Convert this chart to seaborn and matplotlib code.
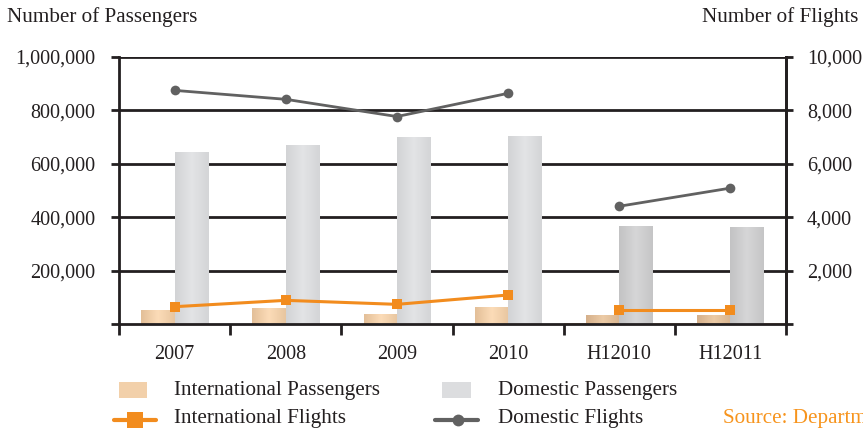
import numpy as np
import pandas as pd
import matplotlib
matplotlib.use("Agg")
import matplotlib.pyplot as plt
import seaborn as sns
from matplotlib.colors import LinearSegmentedColormap
from matplotlib.lines import Line2D
from matplotlib.patches import Rectangle

# ---------------- data ----------------
categories = ["2007", "2008", "2009", "2010", "H12010", "H12011"]
intl_passengers = [49000, 57000, 37000, 61000, 30000, 30000]
dom_passengers = [644000, 670000, 697000, 704000, 367000, 360000]
intl_flights = [648, 886, 736, 1086, 524, 524]
dom_flights = [8750, 8415, 7770, 8640, 4410, 5090]
segment = [0, 0, 0, 0, 1, 1]
left_ticks = [0, 200000, 400000, 600000, 800000, 1000000]
left_labels = ["", "200,000", "400,000", "600,000", "800,000", "1,000,000"]
right_ticks = [0, 2000, 4000, 6000, 8000, 10000]
right_labels = ["", "2,000", "4,000", "6,000", "8,000", "10,000"]
legend_labels = ["International Passengers", "Domestic Passengers",
                 "International Flights", "Domestic Flights"]
source_text = "Source: Department of Civil Aviation"

sns.set_theme(style="white")
plt.rcParams["font.family"] = ["Liberation Serif", "DejaVu Serif"]
TXT = "#231f20"
FS = 14.5
FS2 = 15.2
ORANGE = "#f28c1e"
GRAY = "#616161"

W, H = 863, 432
fig = plt.figure(figsize=(W / 100, H / 100), dpi=100)
ax = fig.add_axes([119 / W, 1 - 324 / H, (786 - 119) / W, (324 - 57) / H])

pos = np.arange(len(categories))
df = pd.DataFrame({
    "cat": categories * 2,
    "val": intl_passengers + dom_passengers,
    "type": ["International Passengers"] * 6 + ["Domestic Passengers"] * 6,
})

# shaded half-year region
ax.axvspan(3.5, 5.5, color="#e5e6e8", zorder=0, lw=0)

sns.barplot(data=df, x="cat", y="val", hue="type", order=categories,
            hue_order=["International Passengers", "Domestic Passengers"],
            width=0.6, dodge=True, ax=ax, legend=False,
            palette=["#f3d1ab", "#dcdddf"], saturation=1, zorder=2)

# gradient fill for bars
cmaps = {
    ("i", False): LinearSegmentedColormap.from_list("a", ["#e3bf98", "#fcdcb8", "#e8c6a0"]),
    ("i", True): LinearSegmentedColormap.from_list("b", ["#d5b08b", "#eccba6", "#d9b590"]),
    ("d", False): LinearSegmentedColormap.from_list("c", ["#d2d3d5", "#e3e4e6", "#d4d5d7"]),
    ("d", True): LinearSegmentedColormap.from_list("d", ["#c3c3c4", "#d6d6d7", "#c5c5c6"]),
}
grad = np.linspace(0, 1, 64).reshape(1, -1)
patches = list(ax.patches)
for p in patches:
    x0, w, h = p.get_x(), p.get_width(), p.get_height()
    if w <= 0 or h <= 0:
        continue
    kind = "i" if abs(h) < 150000 else "d"
    shaded = (x0 + w / 2) > 3.5
    ax.imshow(grad, extent=[x0, x0 + w, 0, h], aspect="auto",
              cmap=cmaps[(kind, shaded)], zorder=2.1, interpolation="bicubic")
    p.set_facecolor("none")
    p.set_edgecolor("none")

ax.set_xlim(-0.5, 5.5)
ax.set_ylim(0, 1000000)
ax.set_xlabel("")
ax.set_ylabel("")

# grid lines
for t in left_ticks[1:]:
    ax.axhline(t, color=TXT, lw=2, zorder=1.5)

ax.set_yticks(left_ticks)
ax.set_yticklabels(left_labels)
ax.set_xticks(np.arange(-0.5, 6, 1.0))
ax.set_xticklabels([])
ax.set_xticks(pos, minor=True)
ax.set_xticklabels(categories, minor=True)
ax.tick_params(axis="x", which="major", length=8, width=2, color=TXT, direction="out", bottom=True)
ax.tick_params(axis="x", which="minor", length=0, pad=15, labelsize=FS, labelcolor=TXT)
ax.tick_params(axis="y", length=6, width=2, color=TXT, direction="out", left=True,
               pad=11, labelsize=FS, labelcolor=TXT)
for s in ["left", "bottom", "right"]:
    ax.spines[s].set_visible(True)
    ax.spines[s].set_color(TXT)
    ax.spines[s].set_linewidth(2)
ax.spines["top"].set_visible(False)

# flights on secondary axis
ax2 = ax.twinx()
fl = pd.DataFrame({"pos": pos, "intl": intl_flights, "dom": dom_flights, "seg": segment})
sns.lineplot(data=fl, x="pos", y="dom", units="seg", estimator=None, ax=ax2,
             color=GRAY, lw=2, marker="o", markersize=7, markeredgewidth=0, zorder=4)
sns.lineplot(data=fl, x="pos", y="intl", units="seg", estimator=None, ax=ax2,
             color=ORANGE, lw=2.2, marker="s", markersize=7.5, markeredgewidth=0, zorder=4)
ax2.set_ylim(0, 10000)
ax2.set_xlim(-0.5, 5.5)
ax2.set_ylabel("")
ax2.set_xlabel("")
ax2.set_yticks(right_ticks)
ax2.set_yticklabels(right_labels)
ax2.tick_params(axis="y", length=5, width=2, color=TXT, direction="out", right=True,
                pad=10, labelsize=FS, labelcolor=TXT)
for s in ax2.spines.values():
    s.set_visible(False)
ax2.spines["right"].set_visible(True)
ax2.spines["right"].set_color(TXT)
ax2.spines["right"].set_linewidth(2)

# axis titles
fig.text(7 / W, 1 - 17 / H, "Number of Passengers", ha="left", va="center", fontsize=FS2, color=TXT)
fig.text(858 / W, 1 - 17 / H, "Number of Flights", ha="right", va="center", fontsize=FS2, color=TXT)

# legend (drawn manually to match the layout)
def fx(px):
    return px / W

def fy(py):
    return 1 - py / H

fig.add_artist(Rectangle((fx(119), fy(398)), (147 - 119) / W, 16 / H, transform=fig.transFigure,
                         facecolor="#f2d0aa", edgecolor="none"))
fig.add_artist(Rectangle((fx(442), fy(398)), (471 - 442) / W, 16 / H, transform=fig.transFigure,
                         facecolor="#dcdddf", edgecolor="none"))
fig.add_artist(Line2D([fx(114), fx(156)], [fy(420), fy(420)], transform=fig.transFigure,
                      color=ORANGE, lw=3))
fig.add_artist(Line2D([fx(135)], [fy(420)], transform=fig.transFigure, color=ORANGE,
                      marker="s", markersize=11, markeredgewidth=0, lw=0))
fig.add_artist(Line2D([fx(435), fx(478)], [fy(420), fy(420)], transform=fig.transFigure,
                      color=GRAY, lw=3))
fig.add_artist(Line2D([fx(458)], [fy(420)], transform=fig.transFigure, color=GRAY,
                      marker="o", markersize=8.5, markeredgewidth=0, lw=0))
fig.text(fx(174), fy(391), legend_labels[0], ha="left", va="center", fontsize=FS2, color=TXT)
fig.text(fx(498), fy(391), legend_labels[1], ha="left", va="center", fontsize=FS2, color=TXT)
fig.text(fx(174), fy(419), legend_labels[2], ha="left", va="center", fontsize=FS2, color=TXT)
fig.text(fx(498), fy(419), legend_labels[3], ha="left", va="center", fontsize=FS2, color=TXT)

fig.text(fx(723), fy(418), source_text, ha="left", va="center", fontsize=FS2, color="#f7941d")

fig.savefig("out.png", dpi=100)
